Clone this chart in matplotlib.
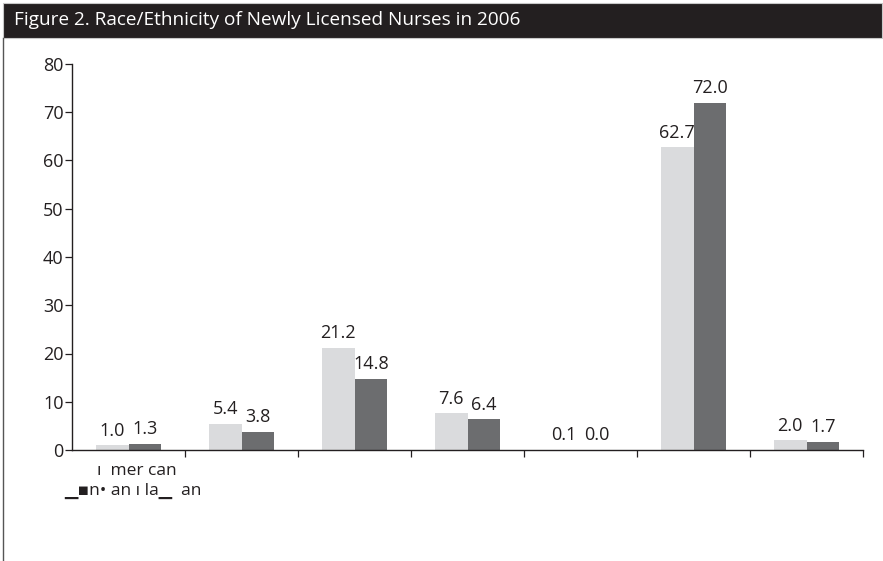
import matplotlib.pyplot as plt
import numpy as np
from matplotlib.patches import Rectangle
from matplotlib.lines import Line2D

plt.rcParams['font.family'] = ['Open Sans', 'DejaVu Sans']

# data
categories = ['American Indian/Alaskan Native', 'Asian', 'Black', 'Hispanic',
              'Native Hawaiian/Pacific Islander', 'White', 'Other']
series_a = [1.0, 5.4, 21.2, 7.6, 0.1, 62.7, 2.0]
series_b = [1.3, 3.8, 14.8, 6.4, 0.0, 72.0, 1.7]
yticks = [0, 10, 20, 30, 40, 50, 60, 70, 80]
title = 'Figure 2. Race/Ethnicity of Newly Licensed Nurses in 2006'
# the source only shows a broken rendering of the first category label
label_lines = ['ı  mer can', '▁▪n• an ı la▁  an']

light = '#dadbdd'
dark = '#6c6d6f'
ink = '#231f20'

fig = plt.figure(figsize=(8.83, 5.61), dpi=100)
ax = fig.add_axes([72 / 883, 1 - 450 / 561, (863 - 72) / 883, (450 - 64) / 561])

x = np.arange(len(categories))
w = 0.29
bars_a = ax.bar(x - w / 2, series_a, w, color=light)
bars_b = ax.bar(x + w / 2, series_b, w, color=dark)

for bars, vals in ((bars_a, series_a), (bars_b, series_b)):
    for b, v in zip(bars, vals):
        ax.annotate(f'{v:.1f}', (b.get_x() + b.get_width() / 2, v),
                    xytext=(0, 4), textcoords='offset points',
                    ha='center', va='bottom', fontsize=13, color=ink)

ax.set_xlim(-0.5, len(categories) - 0.5)
ax.set_ylim(0, 80)
ax.set_yticks(yticks)
ax.set_yticklabels([str(t) for t in yticks], fontsize=13, color=ink)
ax.set_xticks(np.arange(len(categories)) + 0.5)
ax.set_xticklabels([])
ax.tick_params(axis='y', direction='out', length=5, width=0.9, pad=1, color=ink)
ax.tick_params(axis='x', direction='out', length=5, width=0.9, color=ink)
for s in ('top', 'right'):
    ax.spines[s].set_visible(False)
for s in ('left', 'bottom'):
    ax.spines[s].set_linewidth(1.0)
    ax.spines[s].set_color(ink)

# broken category label under the first group
fig.text(97 / 883, 1 - 471 / 561, label_lines[0], fontsize=12.5, color=ink,
         ha='left', va='center')
fig.text(64 / 883, 1 - 491 / 561, label_lines[1], fontsize=12.5, color=ink,
         ha='left', va='center')

# title bar and frame line
fig.patches.append(Rectangle((3 / 883, 1 - 38 / 561), 879 / 883, 35 / 561,
                             transform=fig.transFigure, facecolor=ink,
                             edgecolor='#c8c8c8', linewidth=0.8))
fig.text(14 / 883, 1 - 20 / 561, title, color='white', fontsize=13.7,
         ha='left', va='center')
fig.lines.append(Line2D([3.5 / 883, 3.5 / 883], [0, 1 - 38 / 561],
                        transform=fig.transFigure, color='#555555', linewidth=1.0))

fig.savefig('out.png', dpi=100)
